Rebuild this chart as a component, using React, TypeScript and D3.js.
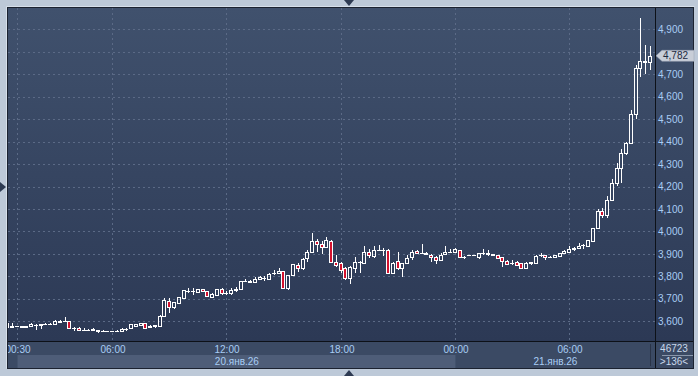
import React from 'react';
import * as d3 from 'd3';

// OHLC of 136 fifteen-minute candles
const opens = [3591,3576,3577,3577,3576,3580,3585,3584,3587,3588,3589,3595,3602,3601,3570,3572,3561,3562,3561,3560,3557,3557,3556,3557,3559,3564,3572,3578,3584,3591,3576,3577,3577,3624,3692,3665,3683,3705,3737,3735,3732,3742,3735,3707,3717,3744,3727,3726,3738,3744,3779,3778,3775,3788,3793,3787,3813,3815,3824,3747,3806,3851,3837,3882,3907,3957,3944,3932,3959,3865,3858,3839,3794,3836,3863,3861,3907,3892,3916,3917,3917,3814,3868,3836,3858,3885,3913,3903,3903,3895,3888,3873,3898,3908,3910,3917,3886,3893,3895,3888,3903,3902,3899,3894,3885,3870,3860,3865,3858,3836,3861,3861,3893,3895,3886,3885,3891,3903,3910,3923,3925,3938,3936,3959,4014,4091,4073,4140,4214,4281,4348,4392,4523,4726,4760,4754];
const highs = [3592,3591,3578,3578,3580,3594,3587,3588,3591,3592,3605,3605,3620,3602,3576,3574,3569,3564,3569,3560,3560,3558,3558,3560,3572,3572,3588,3589,3593,3593,3582,3585,3626,3702,3704,3688,3710,3741,3747,3747,3746,3744,3737,3724,3746,3747,3735,3750,3752,3781,3788,3784,3797,3801,3802,3813,3828,3836,3826,3808,3857,3861,3883,3917,3994,3965,3957,3977,3964,3895,3865,3843,3845,3888,3867,3935,3922,3936,3940,3925,3920,3863,3907,3860,3895,3917,3916,3944,3907,3898,3890,3903,3935,3920,3925,3919,3890,3896,3896,3905,3922,3917,3900,3896,3887,3872,3873,3867,3860,3863,3865,3893,3903,3897,3891,3897,3905,3916,3935,3932,3947,3942,3964,4016,4099,4103,4158,4232,4303,4367,4400,4541,4741,4949,4830,4826];
const lows = [3575,3576,3575,3575,3575,3579,3561,3565,3584,3585,3587,3591,3600,3570,3558,3560,3560,3560,3560,3550,3551,3555,3555,3556,3554,3558,3567,3575,3583,3570,3574,3572,3576,3620,3636,3653,3681,3703,3727,3717,3730,3730,3710,3705,3715,3717,3717,3717,3732,3739,3778,3770,3770,3786,3781,3785,3806,3811,3748,3739,3804,3821,3828,3863,3905,3910,3898,3928,3861,3843,3814,3784,3765,3814,3815,3858,3880,3880,3913,3892,3812,3811,3828,3799,3854,3873,3900,3900,3896,3863,3854,3868,3896,3903,3908,3883,3876,3892,3893,3876,3895,3892,3895,3877,3843,3852,3851,3847,3837,3834,3851,3859,3888,3873,3883,3883,3889,3901,3908,3914,3923,3920,3934,3957,4012,4059,4059,4138,4204,4214,4340,4390,4499,4686,4701,4719];
const closes = [3576,3577,3577,3576,3577,3588,3584,3586,3588,3589,3603,3603,3601,3572,3569,3561,3562,3561,3564,3557,3557,3556,3557,3559,3564,3565,3587,3587,3591,3572,3580,3584,3624,3695,3662,3686,3707,3739,3736,3735,3744,3736,3713,3722,3744,3726,3727,3739,3742,3779,3781,3777,3788,3799,3794,3811,3815,3824,3750,3806,3855,3837,3877,3909,3959,3943,3929,3962,3865,3851,3828,3794,3843,3865,3865,3907,3895,3917,3917,3916,3814,3861,3836,3858,3880,3907,3903,3903,3899,3885,3873,3895,3907,3910,3922,3885,3888,3895,3894,3903,3903,3900,3896,3883,3870,3854,3861,3851,3839,3861,3863,3891,3895,3885,3888,3895,3903,3914,3920,3925,3935,3940,3962,4014,4092,4073,4140,4214,4281,4348,4392,4523,4726,4760,4754,4782];

const priceTicks = [3600,3700,3800,3900,4000,4100,4200,4300,4400,4500,4600,4700,4800,4900];
const timeTickIndex = [2,22,46,70,94,118];
const timeTickLabels = ['00:30','06:00','12:00','18:00','00:00','06:00'];
const dateBandStart = [2,94];
const dateBandEnd = [94,136];
const dateLabels = ['20.янв.26','21.янв.26'];
const lastPrice = 4782;
const infoTop = '46723';
const infoBottom = '>136<';

const W = 698, H = 376;
const L = 8, T = 8, PR = 655, AXY = 341, R = 693, B = 368;
const FONT = '"Liberation Sans", Arial, sans-serif';

export default function App() {
  const n = closes.length;
  const x = d3.scaleLinear().domain([0, n - 1]).range([8.4, 651]);
  const y = d3.scaleLinear().domain([3600, 4900]).range([321.3, 29.3]);
  const fmt = d3.format(',');

  const candles = d3.range(n).map(i => {
    const o = opens[i], c = closes[i];
    const cx = Math.round(x(i));
    const top = Math.round(y(Math.max(o, c)));
    const bot = Math.round(y(Math.min(o, c)));
    const hi = Math.round(y(highs[i]));
    const lo = Math.round(y(lows[i]));
    const bear = c < o;
    const wx = cx - 0.5;
    return (
      <g key={i}>
        {hi < top && <line x1={wx} x2={wx} y1={hi} y2={top} stroke="#fff" strokeWidth={1} />}
        {lo > bot && <line x1={wx} x2={wx} y1={bot} y2={lo} stroke="#fff" strokeWidth={1} />}
        {bot - top >= 1 ? (
          <rect x={cx - 2.5} y={top + 0.5} width={3} height={bot - top} fill={bear ? '#d3122e' : 'none'} stroke="#fff" strokeWidth={1} />
        ) : (
          <line x1={cx - 3} x2={cx + 1} y1={top + 0.5} y2={top + 0.5} stroke="#fff" strokeWidth={1} />
        )}
      </g>
    );
  });

  const ly = y(lastPrice);

  return (
    <svg width={W} height={H} style={{ position: 'absolute', left: 0, top: 0, display: 'block' }}>
      <defs>
        <linearGradient id="bg" x1="0" y1="0" x2="0" y2="1">
          <stop offset="0" stopColor="#40516d" />
          <stop offset="1" stopColor="#2c3955" />
        </linearGradient>
        <clipPath id="plot"><rect x={L} y={T} width={PR - L} height={AXY - T} /></clipPath>
        <clipPath id="xax"><rect x={L} y={AXY} width={PR - L} height={B - AXY} /></clipPath>
      </defs>
      <rect x={0} y={0} width={W} height={H} fill="#bdc9d8" />
      <line x1={6.5} y1={6.5} x2={694.5} y2={6.5} stroke="#d6dfea" />
      <line x1={6.5} y1={6.5} x2={6.5} y2={368.5} stroke="#d6dfea" />
      <rect x={L} y={T} width={R - L} height={AXY - T} fill="url(#bg)" />
      <rect x={L} y={AXY} width={R - L} height={B - AXY} fill="#3b4a64" />
      <g clipPath="url(#xax)">
        {dateBandStart.map((s, k) => (
          k === 0 ? <rect key={k} x={x(s) - 0.4} y={355} width={x(dateBandEnd[k]) - x(s)} height={B - 355} fill="#4e5d78" /> : null
        ))}
      </g>
      <rect x={L - 0.5} y={T - 0.5} width={R - L + 1} height={B - T + 1} fill="none" stroke="#1b2230" />
      {/* grid */}
      <g clipPath="url(#plot)" stroke="#5b6a86" strokeWidth={1} strokeDasharray="2,3">
        {priceTicks.map(p => (
          <line key={p} x1={L} x2={PR} y1={Math.round(y(p)) + 0.5} y2={Math.round(y(p)) + 0.5} />
        ))}
        {timeTickIndex.map(t => (
          <line key={t} x1={Math.round(x(t)) - 0.5} x2={Math.round(x(t)) - 0.5} y1={T} y2={AXY} />
        ))}
      </g>
      <g clipPath="url(#plot)">{candles}</g>
      {/* axes lines */}
      <line x1={L} x2={R} y1={AXY + 0.5} y2={AXY + 0.5} stroke="#0d1118" />
      <line x1={PR + 0.5} x2={PR + 0.5} y1={T} y2={B} stroke="#0d1118" />
      <line x1={650.5} x2={650.5} y1={344} y2={366} stroke="#2a3448" />
      {/* y labels (the one hidden under the last-price marker is not drawn) */}
      <g fontFamily={FONT} fontSize={10} fill="#a9cdf5">
        {priceTicks.filter(p => Math.abs(y(p) - ly) > 9).map(p => (
          <text key={p} x={658} y={y(p) + 3.6}>{fmt(p)}</text>
        ))}
      </g>
      {/* last price marker */}
      <path d={`M656,${ly} L662,${ly - 5.5} L694,${ly - 5.5} L694,${ly + 5.5} L662,${ly + 5.5} Z`} fill="#c8ced8" stroke="#9aa3b2" strokeWidth={0.5} />
      <text x={663} y={ly + 3.6} fontFamily={FONT} fontSize={10} fill="#1d2a40">{fmt(lastPrice)}</text>
      {/* x labels */}
      <g clipPath="url(#xax)" fontFamily={FONT} fontSize={10} fill="#a9cdf5" textAnchor="middle">
        {timeTickIndex.map((t, k) => (
          <text key={k} x={Math.round(x(t))} y={353}>{timeTickLabels[k]}</text>
        ))}
        {dateLabels.map((d, k) => (
          <text key={d} x={(x(dateBandStart[k]) + Math.min(x(dateBandEnd[k]), PR)) / 2} y={365}>{d}</text>
        ))}
      </g>
      {/* info box */}
      <text x={674} y={352} textAnchor="middle" fontFamily={FONT} fontSize={10} fill="#c9d8ea">{infoTop}</text>
      <line x1={662} x2={693} y1={355.5} y2={355.5} stroke="#8a97ab" />
      <text x={674} y={365} textAnchor="middle" fontFamily={FONT} fontSize={10} fill="#c9d8ea">{infoBottom}</text>
      {/* navigation triangles */}
      <path d="M344,0 L354,0 L349,6 Z" fill="#2d3a52" />
      <path d="M0,182 L0,192 L6,187 Z" fill="#2d3a52" />
      <path d="M344,376 L354,376 L349,370 Z" fill="#2d3a52" />
    </svg>
  );
}
